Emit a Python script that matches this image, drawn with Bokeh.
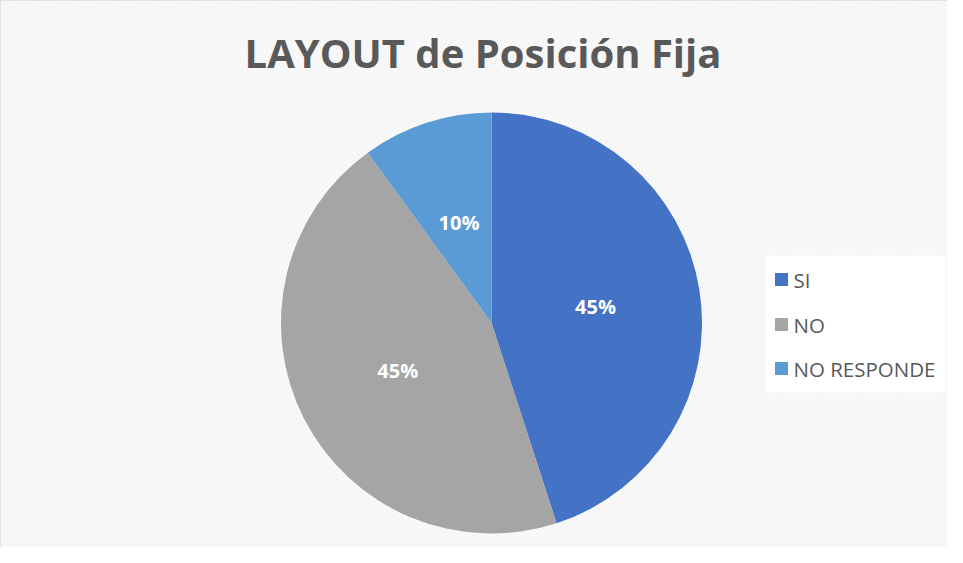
import math
from bokeh.plotting import figure
from bokeh.models import ColumnDataSource, Range1d
from bokeh.core.properties import value
from bokeh.embed import file_html
from bokeh.resources import INLINE

title_text = "LAYOUT de Posición Fija"
categories = ["SI", "NO", "NO RESPONDE"]
values = [45, 45, 10]
colors = ["#4472C4", "#A5A5A5", "#5B9BD5"]

W, H = 947, 547
p = figure(width=W, height=H, output_backend="svg", toolbar_location=None,
           x_range=Range1d(0, W), y_range=Range1d(0, H), min_border=0)
p.axis.visible = False
p.grid.visible = False
p.outline_line_color = "#D9D9D9"
p.outline_line_width = 1.5
p.background_fill_color = "white"
p.border_fill_color = "white"

# hatched background
p.quad(left=[0], right=[W], bottom=[0], top=[H], fill_color="white", line_color=None,
       hatch_pattern="left_diagonal_line", hatch_color="#F0F0F0", hatch_scale=5, hatch_weight=1.2)

# pie
cx, cy, R = 491, 547 - 322.5, 210.5
total = sum(values)
starts, ends, lx, ly, labels = [], [], [], [], []
cum = 0.0
for v in values:
    a0 = cum / total * 2 * math.pi
    cum += v
    a1 = cum / total * 2 * math.pi
    starts.append(math.pi / 2 - a1)
    ends.append(math.pi / 2 - a0)
    mid = (a0 + a1) / 2
    lx.append(cx + 0.5 * R * math.sin(mid))
    ly.append(cy + 0.5 * R * math.cos(mid))
    labels.append(f"{round(v / total * 100)}%")

src = ColumnDataSource(dict(start=starts, end=ends, color=colors, lx=lx, ly=ly, label=labels))
p.wedge(x=cx, y=cy, radius=R, start_angle="start", end_angle="end", fill_color="color",
        line_color=None, source=src)
p.text(x="lx", y="ly", text="label", source=src, text_color="white", text_font=value("Open Sans"),
       text_font_style="bold", text_font_size="20px", text_align="center", text_baseline="middle")

# title
p.text(x=[482.5], y=[547 - 52], text=[title_text], text_color="#595959", text_font=value("Open Sans"),
       text_font_style="bold", text_font_size="40px", text_align="center", text_baseline="middle")

# legend
p.quad(left=[765], right=[945], bottom=[547 - 392], top=[547 - 255], fill_color="white", line_color=None)
leg_y = [547 - 279, 547 - 324, 547 - 368]
p.rect(x=[781] * 3, y=leg_y, width=13, height=13, fill_color=colors, line_color=None)
p.text(x=[793] * 3, y=leg_y, text=categories, text_color="#595959", text_font=value("Open Sans"),
       text_font_size="20.5px", text_align="left", text_baseline="middle")

open("out.html", "w").write(file_html(p, INLINE))
